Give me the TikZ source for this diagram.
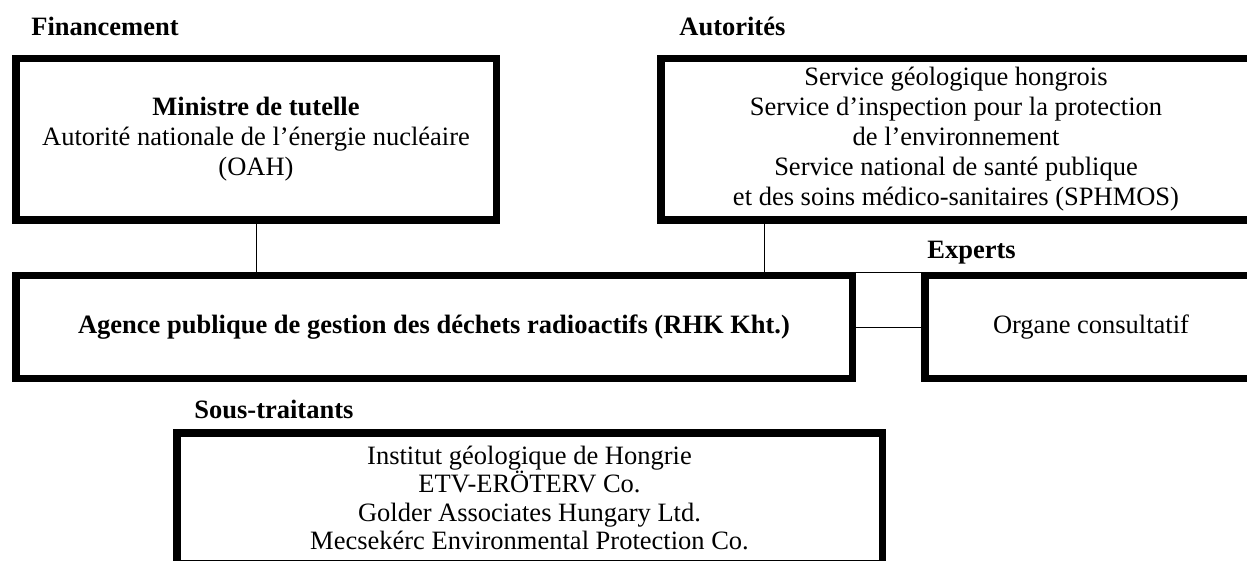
\documentclass[tikz,border=0pt]{standalone}
\usepackage{fontspec}
\setmainfont{Liberation Serif}
\begin{document}
\begin{tikzpicture}[x=0.5pt,y=-0.5pt,
  every node/.style={font=\fontsize{13.25}{15}\selectfont},
  frame/.style={draw=black,line width=3.75pt,rectangle,inner sep=0pt,align=center},
  grouplabel/.style={anchor=base west,inner sep=0pt,font=\fontsize{13.25}{15}\selectfont\bfseries},
  link/.style={draw=black,line width=0.5pt}]
\useasboundingbox (0,0) rectangle (1247,561);
\clip (0,0) rectangle (1247,561);
\fill[white] (0,0) rectangle (1247,561);

% group labels
\node[grouplabel] (lfin) at (31,36) {Financement};
\node[grouplabel] (laut) at (679,36) {Autorités};
\node[grouplabel] (lexp) at (927,259) {Experts};
\node[grouplabel] (lsous) at (194,418) {Sous-traitants};

% boxes
\node[frame,minimum width=240.25pt,minimum height=80.75pt] (box1) at (256,139.5)
  {\textbf{Ministre de tutelle}\\Autorité nationale de l’énergie nucléaire\\(OAH)};
\node[frame,minimum width=295.25pt,minimum height=80.75pt] (box2) at (956,139.5)
  {Service géologique hongrois\\Service d’inspection pour la protection\\de l’environnement\\Service national de santé publique\\et des soins médico-sanitaires (SPHMOS)};
\node[frame,minimum width=418.25pt,minimum height=51.25pt] (box3) at (434,327)
  {\textbf{Agence publique de gestion des déchets radioactifs (RHK Kht.)}};
\node[frame,minimum width=166.25pt,minimum height=51.25pt] (box4) at (1091,327)
  {Organe consultatif};
\node[frame,minimum width=352.75pt,minimum height=65.25pt,
  font=\fontsize{13.25}{14.3}\selectfont] (box5) at (529.5,498)
  {Institut géologique de Hongrie\\ETV-ERÖTERV Co.\\Golder Associates Hungary Ltd.\\Mecsekérc Environmental Protection Co.};

% connectors
\coordinate (c2) at (764,224);
\draw[link] (box1.south) -- (box1.south |- box3.north);
\draw[link] (c2 |- box2.south) -- (c2 |- box3.north);
\draw[link] (box3.east) -- (box4.west);
\draw[link] ([yshift=-0.25pt]box3.north east) -- ([yshift=-0.25pt]box4.north west);
\end{tikzpicture}
\end{document}
